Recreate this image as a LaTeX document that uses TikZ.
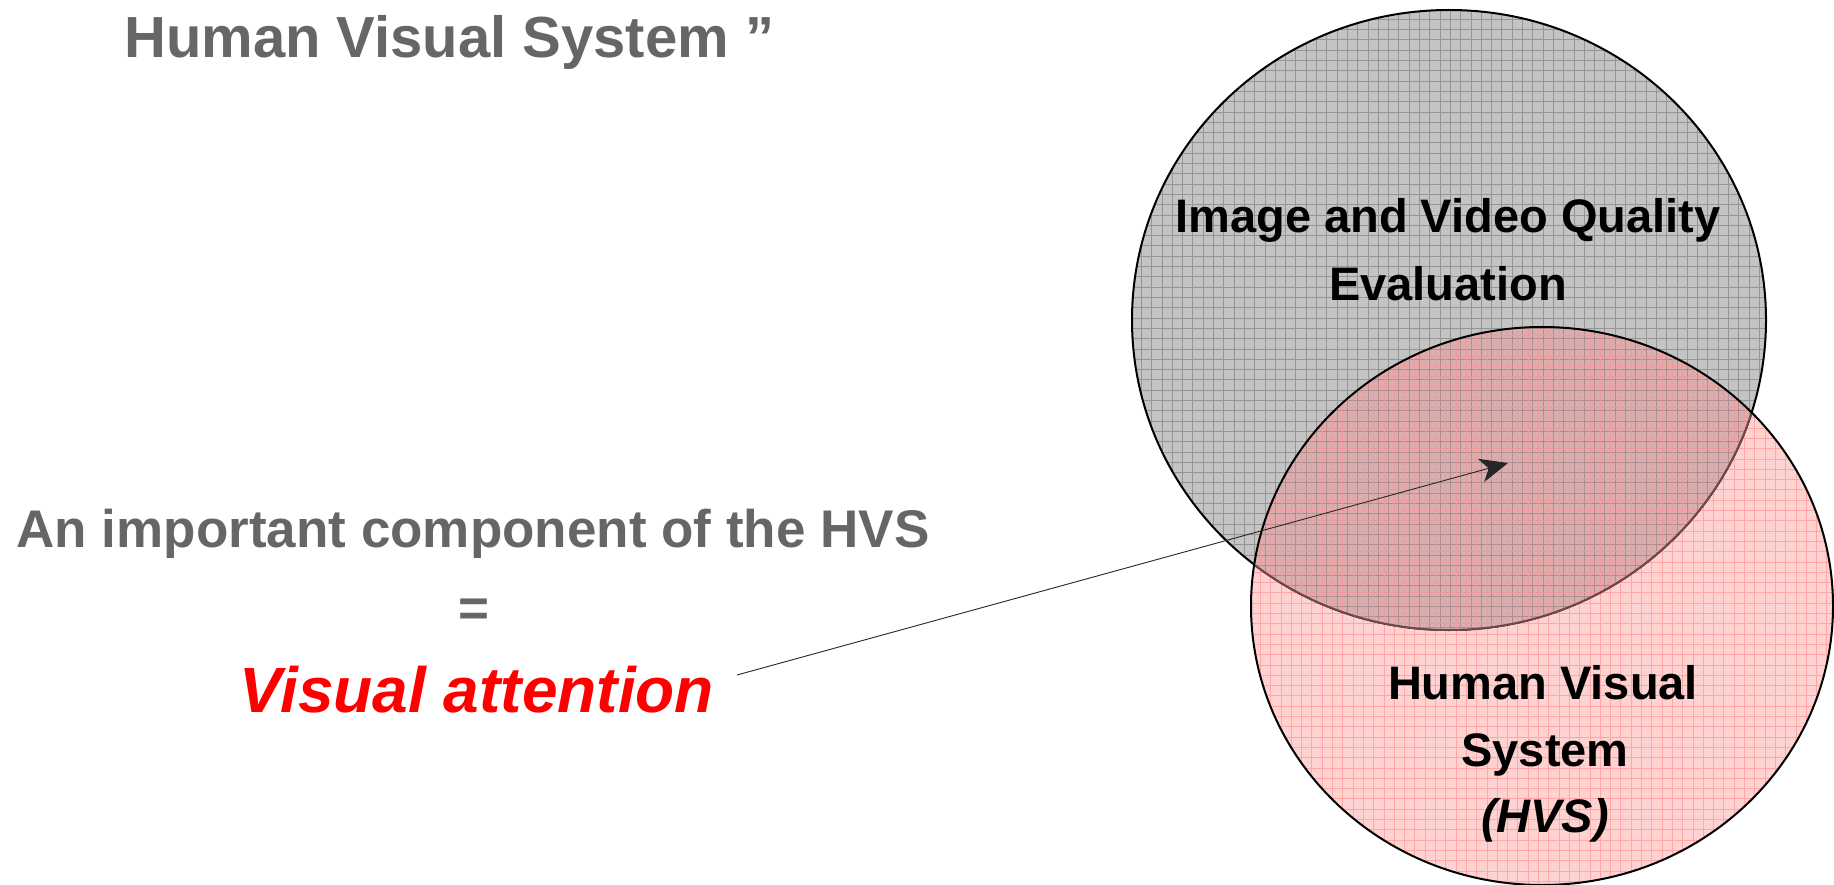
\documentclass[tikz,border=0pt]{standalone}
\usepackage{fontspec}
\setmainfont{Liberation Sans}
\usetikzlibrary{arrows.meta}

\definecolor{txtgrey}{HTML}{666666}
\definecolor{greyfill}{HTML}{C4C4C4}
\definecolor{greygrid}{HTML}{959595}
\definecolor{pinkfill}{HTML}{FFD2D2}
\definecolor{pinkgrid}{HTML}{FFA6A6}
\definecolor{interfill}{HTML}{DAAEAE}
\definecolor{intergrey}{HTML}{B08C8C}
\definecolor{interpink}{HTML}{EC9C9C}
\definecolor{interedge}{HTML}{6E4848}
\definecolor{attn}{HTML}{FF0000}

\tikzset{
  lbl/.style={anchor=base, inner sep=0pt, font=\bfseries\fontsize{47}{56}\selectfont},
  side/.style={anchor=base, inner sep=0pt, text=txtgrey, font=\bfseries\fontsize{53}{64}\selectfont},
  gridline/.style={line width=0.8pt},
  outline/.style={line width=2pt, draw=black},
}

% the two sets of the diagram
\def\greyset{(1449,320) ellipse [x radius=317, y radius=310]}
\def\pinkset{(1542,606) ellipse [x radius=291, y radius=279]}

\begin{document}
\begin{tikzpicture}[x=1pt, y=-1pt]
\useasboundingbox (0,0) rectangle (1834,885);

% --- HVS set (pink), lower layer
\fill[pinkfill] \pinkset;
\begin{scope}
  \clip \pinkset;
  \foreach \x in {1250.0,1260.3,...,1840} \draw[pinkgrid, gridline] (\x,320) -- (\x,890);
  \foreach \y in {325.0,335.3,...,890} \draw[pinkgrid, gridline] (1245,\y) -- (1840,\y);
\end{scope}

% --- quality evaluation set (grey)
\fill[greyfill] \greyset;
\begin{scope}
  \clip \greyset;
  \foreach \x in {1131.0,1141.3,...,1770} \draw[greygrid, gridline] (\x,5) -- (\x,635);
  \foreach \y in {9.0,19.3,...,635} \draw[greygrid, gridline] (1125,\y) -- (1770,\y);
\end{scope}
\draw[outline] \greyset;

% --- overlap of both sets
\begin{scope}
  \clip \greyset;
  \clip \pinkset;
  \fill[interfill] \pinkset;
  \foreach \x in {1131.0,1141.3,...,1770} \draw[intergrey, gridline] (\x,5) -- (\x,635);
  \foreach \y in {9.0,19.3,...,635} \draw[intergrey, gridline] (1125,\y) -- (1770,\y);
  \foreach \x in {1250.0,1260.3,...,1840} \draw[interpink, gridline] (\x,320) -- (\x,890);
  \foreach \y in {325.0,335.3,...,890} \draw[interpink, gridline] (1245,\y) -- (1840,\y);
\end{scope}
\begin{scope}
  \clip \pinkset;
  \draw[line width=2pt, interedge] \greyset;
\end{scope}
\draw[outline] \pinkset;

% --- labels inside the sets
\node[lbl] (iq1) at (1448,233) {Image and Video Quality};
\node[lbl] (iq2) at (1448,301) {Evaluation};
\node[lbl] (hv1) at (1543,699) {Human Visual};
\node[lbl] (hv2) at (1545,766) {System};
\node[lbl, font=\bfseries\itshape\fontsize{47}{56}\selectfont] (hv3) at (1545,832) {(HVS)};

% --- text on the left
\node[anchor=base west, inner sep=0pt, text=txtgrey, font=\bfseries\fontsize{58}{70}\selectfont]
  (title) at (124,58) {Human Visual System ”};
\node[side] (comp) at (473,547) {An important component of the HVS};
\node[side] (eq) at (474,626) {=};
\node[anchor=base, inner sep=0pt, text=attn, font=\bfseries\itshape\fontsize{64}{76}\selectfont]
  (va) at (477,712) {Visual attention};

% --- pointer from the term to the overlap
\coordinate (tail) at (737,675);
\coordinate (tip) at (1508,463);
\draw[line width=0.9pt, draw=black!85, -{Stealth[length=28pt, width=24pt, inset=8pt]}] (tail) -- (tip);
\end{tikzpicture}
\end{document}
